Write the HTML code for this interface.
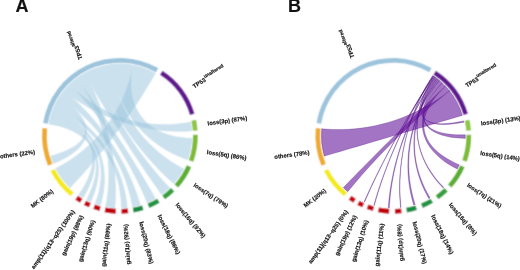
<!DOCTYPE html><html><head><meta charset="utf-8"><style>html,body{margin:0;padding:0;background:#fff;width:520px;height:270px;overflow:hidden}svg{display:block}text{font-family:"Liberation Sans",sans-serif;font-weight:bold;font-size:5.9px;fill:#111;stroke:#111;stroke-width:0.15}</style></head><body>
<svg width="520" height="270" viewBox="0 0 520 270">
<defs><filter id="bl" filterUnits="userSpaceOnUse" x="0" y="0" width="520" height="270"><feConvolveMatrix order="3" kernelMatrix="1 2 1 2 8 2 1 2 1" divisor="20" edgeMode="none"/></filter></defs>
<g filter="url(#bl)">
<defs><g id="ra"><path d="M48.89 123.97A72 72 0 0 1 49.8 119.41L52.54 120.07 55.96 120.98 59.86 122.18 64.08 123.71 68.46 125.59 72.85 127.83 77.15 130.44 81.23 133.42 85.01 136.77 88.41 140.47 91.37 144.49 93.84 148.81 95.8 153.39 97.22 158.18 98.12 163.12 98.51 168.15 98.43 173.21 97.92 178.21 97.05 183.07 95.91 187.69 94.58 191.98 93.19 195.82 91.85 199.09L90.73 201.67A72 72 0 0 1 86.54 199.66L87.83 197.15 89.37 193.99 91 190.28 92.59 186.16 94 181.72 95.15 177.08 95.93 172.32 96.28 167.53 96.14 162.79 95.48 158.16 94.27 153.71 92.5 149.48 90.2 145.52 87.37 141.87 84.08 138.55 80.38 135.58 76.35 132.97 72.08 130.72 67.69 128.83 63.3 127.29 59.05 126.06 55.12 125.13 51.66 124.45Z"/><path d="M49.8 119.41A72 72 0 0 1 51.2 114.32L53.88 115.17 57.21 116.33 61.01 117.81 65.08 119.63 69.27 121.8 73.45 124.33 77.47 127.21 81.25 130.44 84.67 134 87.67 137.87 90.19 142.03 92.19 146.43 93.63 151.05 94.53 155.82 94.87 160.71 94.69 165.65 94.03 170.57 92.95 175.4 91.52 180.07 89.84 184.48 88.02 188.55 86.18 192.18 84.46 195.27L83.03 197.7A72 72 0 0 1 78.6 194.83L80.2 192.51 82.14 189.58 84.23 186.13 86.32 182.28 88.28 178.12 89.99 173.74 91.36 169.22 92.29 164.64 92.72 160.07 92.61 155.57 91.93 151.21 90.66 147.02 88.81 143.05 86.41 139.34 83.5 135.91 80.13 132.8 76.38 130 72.35 127.54 68.15 125.42 63.92 123.62 59.79 122.14 55.94 120.97 52.54 120.07Z"/><path d="M51.2 114.32A72 72 0 0 1 53.01 109.2L55.63 110.26 58.9 111.68 62.66 113.48 66.74 115.68 71.02 118.28 75.36 121.29 79.64 124.7 83.77 128.5 87.66 132.66 91.24 137.16 94.45 141.97 97.23 147.05 99.57 152.35 101.45 157.82 102.85 163.4 103.8 169.02 104.3 174.6 104.41 180.08 104.16 185.35 103.63 190.33 102.9 194.91 102.05 198.99 101.19 202.45L100.44 205.17A72 72 0 0 1 95.27 203.51L96.22 200.85 97.33 197.48 98.47 193.52 99.52 189.08 100.38 184.27 100.95 179.2 101.17 173.96 100.98 168.63 100.32 163.3 99.18 158.03 97.54 152.9 95.4 147.96 92.77 143.25 89.69 138.83 86.2 134.73 82.36 130.97 78.25 127.58 73.95 124.57 69.58 121.95 65.24 119.71 61.08 117.84 57.23 116.34 53.88 115.18Z"/><path d="M53.01 109.2A72 72 0 0 1 55.37 103.92L57.9 105.18 61.09 106.87 64.82 108.98 68.96 111.53 73.39 114.52 78 117.93 82.71 121.77 87.42 125.99 92.06 130.59 96.55 135.53 100.84 140.77 104.87 146.27 108.61 151.97 112.01 157.83 115.06 163.77 117.74 169.72 120.05 175.62 121.99 181.37 123.56 186.89 124.81 192.08 125.75 196.85 126.42 201.08 126.88 204.67L127.18 207.48A72 72 0 0 1 121.41 207.83L121.33 205.01 121.16 201.41 120.81 197.18 120.22 192.43 119.33 187.28 118.12 181.82 116.53 176.16 114.56 170.38 112.19 164.59 109.43 158.83 106.27 153.2 102.74 147.75 98.87 142.53 94.7 137.6 90.29 132.99 85.69 128.74 80.97 124.87 76.23 121.4 71.54 118.35 67.02 115.72 62.78 113.5 58.94 111.68 55.64 110.26Z"/><path d="M55.37 103.92A72 72 0 0 1 59.22 97.1L61.58 98.63 64.47 100.58 67.69 102.91 71.03 105.57 74.34 108.5 77.47 111.66 80.27 115 82.66 118.48 84.54 122.05 85.83 125.68 86.5 129.32 86.52 132.94 85.88 136.5 84.59 139.98 82.68 143.33 80.22 146.52 77.27 149.53 73.92 152.34 70.3 154.91 66.53 157.23 62.78 159.26 59.21 161 56.02 162.43L53.43 163.52A72 72 0 0 1 50.82 156.15L53.51 155.34 56.82 154.29 60.53 153 64.42 151.48 68.32 149.74 72.06 147.8 75.5 145.67 78.53 143.36 81.04 140.89 82.96 138.3 84.23 135.59 84.83 132.8 84.73 129.94 83.94 127.05 82.5 124.16 80.45 121.3 77.86 118.51 74.84 115.81 71.49 113.25 67.96 110.86 64.39 108.69 60.96 106.78 57.88 105.17Z"/><path d="M59.22 97.1A72 72 0 0 1 63.84 90.66L66.05 92.45 68.84 94.79 72.14 97.65 75.83 101.02 79.84 104.87 84.09 109.16 88.49 113.87 92.97 118.95 97.47 124.37 101.93 130.07 106.3 136 110.52 142.12 114.56 148.36 118.38 154.66 121.94 160.96 125.22 167.19 128.21 173.28 130.88 179.14 133.23 184.71 135.25 189.88 136.95 194.59 138.34 198.72 139.43 202.2L140.24 204.92A72 72 0 0 1 132.53 206.73L132.02 203.95 131.3 200.39 130.34 196.17 129.09 191.4 127.53 186.18 125.64 180.6 123.41 174.75 120.84 168.71 117.93 162.58 114.68 156.42 111.12 150.3 107.28 144.29 103.2 138.44 98.9 132.82 94.44 127.46 89.89 122.43 85.3 117.74 80.74 113.45 76.3 109.57 72.07 106.13 68.14 103.16 64.61 100.66 61.6 98.64Z"/><path d="M63.84 90.66A72 72 0 0 1 69.74 84.2L71.72 86.22 74.3 88.75 77.46 91.66 81.15 94.82 85.36 98.14 90.02 101.51 95.12 104.85 100.6 108.07 106.4 111.12 112.49 113.94 118.81 116.48 125.29 118.7 131.88 120.58 138.51 122.11 145.11 123.28 151.62 124.1 157.96 124.58 164.05 124.76 169.8 124.66 175.15 124.35 179.99 123.86 184.24 123.28 187.81 122.69L190.59 122.16A72 72 0 0 1 191.72 130.83L188.9 131.01 185.27 131.19 180.93 131.3 175.97 131.29 170.48 131.1 164.55 130.69 158.25 130.05 151.67 129.14 144.88 127.95 137.97 126.48 131 124.71 124.04 122.67 117.16 120.37 110.44 117.83 103.92 115.09 97.67 112.18 91.75 109.17 86.22 106.1 81.12 103.03 76.51 100.05 72.43 97.23 68.93 94.66 66.06 92.43Z"/><path d="M69.74 84.2A72 72 0 0 1 76.72 78.23L78.42 80.51 80.61 83.44 83.22 86.99 86.22 91.1 89.54 95.71 93.13 100.77 96.96 106.21 100.96 111.98 105.1 118.03 109.33 124.28 113.6 130.68 117.88 137.17 122.11 143.69 126.26 150.17 130.29 156.55 134.17 162.77 137.85 168.75 141.3 174.44 144.49 179.76 147.38 184.65 149.95 189.04 152.15 192.86 153.97 196.04L155.37 198.51A72 72 0 0 1 147.1 202.51L146.03 199.89 144.61 196.52 142.85 192.49 140.76 187.9 138.34 182.81 135.61 177.3 132.59 171.47 129.29 165.37 125.74 159.08 121.96 152.68 118 146.23 113.87 139.79 109.63 133.43 105.31 127.21 100.96 121.19 96.62 115.41 92.36 109.95 88.22 104.84 84.28 100.13 80.58 95.88 77.21 92.11 74.23 88.89 71.71 86.24Z"/><path d="M76.72 78.23A72 72 0 0 1 84.49 73.16L85.88 75.63 87.62 78.83 89.63 82.71 91.83 87.21 94.16 92.27 96.54 97.83 98.92 103.83 101.26 110.21 103.49 116.91 105.6 123.86 107.54 131 109.28 138.25 110.82 145.55 112.13 152.82 113.22 160 114.08 167.01 114.71 173.78 115.14 180.22 115.38 186.27 115.45 191.83 115.39 196.84 115.25 201.21 115.05 204.84L114.86 207.67A72 72 0 0 1 105.67 206.43L106.22 203.65 106.85 200.08 107.5 195.81 108.08 190.92 108.53 185.49 108.81 179.62 108.86 173.37 108.65 166.83 108.15 160.08 107.35 153.19 106.25 146.22 104.83 139.25 103.12 132.35 101.12 125.59 98.88 119.02 96.42 112.71 93.8 106.71 91.08 101.1 88.3 95.91 85.56 91.21 82.94 87.04 80.52 83.46 78.41 80.51Z"/><path d="M84.49 73.16A72 72 0 0 1 93.9 68.71L94.93 71.35 96.29 74.74 97.97 78.8 99.99 83.43 102.32 88.56 104.96 94.1 107.89 99.98 111.09 106.12 114.54 112.46 118.22 118.91 122.09 125.41 126.13 131.89 130.28 138.3 134.52 144.57 138.8 150.64 143.06 156.46 147.26 161.97 151.34 167.12 155.24 171.86 158.89 176.15 162.22 179.94 165.18 183.19 167.67 185.87L169.63 187.92A72 72 0 0 1 161.61 194.54L159.97 192.23 157.85 189.23 155.32 185.62 152.42 181.44 149.2 176.76 145.71 171.63 141.99 166.11 138.09 160.26 134.05 154.15 129.92 147.82 125.74 141.35 121.55 134.8 117.4 128.22 113.32 121.69 109.35 115.27 105.53 109.01 101.89 103 98.47 97.28 95.31 91.94 92.44 87.04 89.9 82.64 87.7 78.81 85.89 75.63Z"/><path d="M93.9 68.71A72 72 0 0 1 111.1 64.39L111.46 67.2 111.99 70.77 112.75 75 113.78 79.77 115.12 84.97 116.79 90.5 118.82 96.26 121.22 102.18 123.98 108.17 127.11 114.15 130.57 120.05 134.36 125.81 138.44 131.37 142.75 136.68 147.26 141.69 151.91 146.37 156.62 150.68 161.31 154.6 165.91 158.1 170.31 161.17 174.42 163.8 178.12 165.99 181.28 167.73L183.79 169.05A72 72 0 0 1 173.74 183.65L171.63 181.76 168.93 179.3 165.74 176.3 162.14 172.78 158.21 168.77 154.03 164.33 149.66 159.48 145.18 154.27 140.63 148.74 136.09 142.95 131.6 136.94 127.21 130.77 122.96 124.51 118.9 118.2 115.06 111.92 111.46 105.73 108.15 99.71 105.13 93.93 102.42 88.45 100.04 83.38 98 78.77 96.29 74.74 94.93 71.35Z"/><path d="M111.1 64.39A72 72 0 0 1 132.86 65.03L132.36 67.8 131.83 71.3 131.38 75.37 131.09 79.87 131.06 84.67 131.35 89.64 132.03 94.69 133.13 99.71 134.68 104.61 136.71 109.33 139.22 113.78 142.19 117.93 145.6 121.72 149.42 125.12 153.58 128.11 158.04 130.69 162.7 132.84 167.49 134.58 172.29 135.94 176.98 136.94 181.43 137.62 185.51 138.05 189.04 138.28L191.85 138.4A72 72 0 0 1 187.81 159.77L185.15 158.81 181.78 157.52 177.86 155.87 173.5 153.83 168.82 151.38 163.94 148.53 158.96 145.27 153.97 141.6 149.06 137.56 144.28 133.15 139.72 128.4 135.42 123.37 131.42 118.09 127.77 112.61 124.49 107.01 121.59 101.33 119.08 95.68 116.96 90.11 115.22 84.74 113.83 79.65 112.77 74.95 112 70.76 111.46 67.2Z"/><path d="M132.86 65.03A72 72 0 0 1 155.35 73.18L153.95 75.65 152.13 78.82 149.9 82.62 147.28 86.97 144.31 91.79 141.01 97.02 137.41 102.58 133.54 108.4 129.44 114.42 125.13 120.57 120.67 126.78 116.08 133 111.42 139.16 106.73 145.21 102.06 151.09 97.46 156.73 92.98 162.1 88.67 167.13 84.6 171.78 80.82 176 77.4 179.75 74.39 182.96 71.87 185.62L69.9 187.66A72 72 0 0 1 55.69 168.43L58.21 167.13 61.4 165.42 65.13 163.27 69.29 160.68 73.76 157.66 78.45 154.22 83.26 150.36 88.11 146.11 92.91 141.49 97.61 136.54 102.14 131.3 106.45 125.81 110.49 120.12 114.22 114.29 117.63 108.37 120.69 102.45 123.38 96.6 125.71 90.89 127.68 85.41 129.3 80.26 130.6 75.54 131.6 71.35 132.33 67.81Z"/></g><g id="rb"><path d="M432.72 75.6A72 72 0 0 1 433.15 75.88L431.59 78.25 429.63 81.32 427.38 85.04 424.92 89.36 422.33 94.23 419.68 99.6 417.04 105.41 414.48 111.59 412.03 118.1 409.74 124.86 407.66 131.81 405.8 138.9 404.19 146.04 402.84 153.18 401.76 160.23 400.93 167.13 400.37 173.81 400.03 180.17 399.91 186.16 399.97 191.67 400.17 196.65 400.46 200.99 400.78 204.61L401.08 207.43A72 72 0 0 1 400.58 207.48L400.3 204.66 400 201.03 399.74 196.69 399.57 191.71 399.54 186.19 399.69 180.2 400.05 173.82 400.64 167.13 401.48 160.22 402.58 153.15 403.94 146 405.56 138.84 407.42 131.74 409.5 124.76 411.78 117.98 414.21 111.45 416.76 105.25 419.38 99.42 422.01 94.03 424.58 89.14 427.02 84.8 429.25 81.06 431.18 77.98Z"/><path d="M433.15 75.88A72 72 0 0 1 433.65 76.22L432.07 78.57 430.05 81.62 427.66 85.31 424.97 89.6 422.03 94.43 418.91 99.73 415.65 105.47 412.3 111.57 408.92 117.98 405.53 124.64 402.2 131.48 398.94 138.44 395.79 145.44 392.78 152.43 389.94 159.34 387.29 166.09 384.85 172.6 382.63 178.82 380.64 184.65 378.9 190.02 377.41 194.86 376.16 199.08 375.17 202.6L374.42 205.33A72 72 0 0 1 373.84 205.17L374.61 202.44 375.63 198.93 376.91 194.72 378.43 189.89 380.21 184.52 382.23 178.7 384.48 172.49 386.95 165.97 389.62 159.23 392.48 152.32 395.5 145.32 398.65 138.31 401.91 131.34 405.25 124.48 408.62 117.81 411.99 111.38 415.31 105.26 418.55 99.51 421.65 94.18 424.56 89.33 427.22 85.02 429.59 81.31 431.58 78.25Z"/><path d="M433.65 76.22A72 72 0 0 1 434.18 76.58L432.57 78.92 430.51 81.94 428.05 85.6 425.26 89.84 422.17 94.6 418.85 99.83 415.34 105.46 411.68 111.45 407.93 117.72 404.13 124.22 400.31 130.88 396.52 137.64 392.8 144.43 389.17 151.2 385.68 157.87 382.35 164.37 379.21 170.64 376.29 176.6 373.62 182.19 371.22 187.33 369.11 191.95 367.31 195.97 365.84 199.33L364.71 201.93A72 72 0 0 1 364.13 201.67L365.28 199.08 366.78 195.74 368.61 191.73 370.76 187.13 373.19 182 375.89 176.42 378.84 170.47 382 164.21 385.35 157.71 388.87 151.04 392.5 144.28 396.23 137.48 400.02 130.71 403.83 124.04 407.63 117.53 411.36 111.24 414.99 105.24 418.48 99.58 421.77 94.34 424.83 89.55 427.6 85.29 430.03 81.61 432.06 78.57Z"/><path d="M434.18 76.58A72 72 0 0 1 434.93 77.1L433.31 79.42 431.33 82.39 429.14 85.97 426.88 90.06 424.67 94.62 422.61 99.57 420.78 104.84 419.28 110.38 418.16 116.12 417.46 122 417.22 127.95 417.45 133.93 418.16 139.87 419.34 145.72 420.96 151.41 422.97 156.9 425.33 162.13 427.96 167.06 430.78 171.62 433.69 175.76 436.57 179.45 439.29 182.64 441.71 185.26L443.68 187.29A72 72 0 0 1 443.03 187.92L441.09 185.87 438.69 183.21 436.01 179.99 433.16 176.26 430.29 172.06 427.51 167.45 424.91 162.47 422.57 157.18 420.58 151.63 418.97 145.87 417.8 139.96 417.08 133.96 416.84 127.92 417.07 121.9 417.74 115.96 418.84 110.17 420.31 104.58 422.09 99.25 424.11 94.26 426.28 89.66 428.5 85.52 430.65 81.92 432.59 78.91Z"/><path d="M434.93 77.1A72 72 0 0 1 435.87 77.78L434.2 80.07 432.09 83.05 429.63 86.66 426.91 90.87 424 95.61 420.97 100.85 417.89 106.53 414.8 112.59 411.78 118.98 408.85 125.63 406.06 132.49 403.45 139.48 401.04 146.54 398.85 153.61 396.9 160.61 395.19 167.47 393.73 174.11 392.52 180.46 391.54 186.43 390.78 191.95 390.22 196.93 389.83 201.28 389.57 204.91L389.41 207.74A72 72 0 0 1 388.26 207.67L388.47 204.85 388.78 201.21 389.23 196.86 389.86 191.88 390.69 186.36 391.73 180.38 393 174.03 394.52 167.37 396.27 160.49 398.26 153.47 400.48 146.38 402.9 139.28 405.52 132.26 408.3 125.36 411.22 118.67 414.22 112.24 417.27 106.13 420.31 100.41 423.3 95.12 426.16 90.33 428.83 86.08 431.23 82.43 433.29 79.42Z"/><path d="M435.87 77.78A72 72 0 0 1 436.92 78.57L435.23 80.81 433.18 83.61 430.96 86.84 428.72 90.35 426.61 94.03 424.74 97.77 423.22 101.48 422.14 105.06 421.56 108.45 421.53 111.58 422.08 114.41 423.24 116.88 424.98 118.98 427.3 120.69 430.14 122.01 433.45 122.93 437.16 123.48 441.16 123.69 445.34 123.6 449.57 123.26 453.7 122.74 457.57 122.11 460.98 121.45L463.73 120.88A72 72 0 0 1 463.99 122.16L461.23 122.68 457.8 123.27 453.92 123.83 449.76 124.26 445.5 124.51 441.28 124.49 437.24 124.18 433.49 123.51 430.13 122.48 427.22 121.05 424.84 119.23 423.03 117.01 421.8 114.43 421.17 111.5 421.12 108.26 421.62 104.78 422.62 101.1 424.06 97.31 425.85 93.49 427.89 89.74 430.06 86.17 432.22 82.9 434.21 80.05Z"/><path d="M436.92 78.57A72 72 0 0 1 438.11 79.49L436.36 81.72 434.21 84.59 431.78 88.07 429.22 92.09 426.63 96.61 424.12 101.56 421.78 106.9 419.67 112.56 417.87 118.49 416.42 124.63 415.36 130.93 414.71 137.31 414.49 143.72 414.69 150.09 415.29 156.38 416.27 162.5 417.59 168.39 419.19 174 421.01 179.25 422.96 184.07 424.95 188.41 426.88 192.18 428.63 195.32L430.06 197.76A72 72 0 0 1 428.77 198.51L427.39 196.04 425.7 192.86 423.84 189.04 421.92 184.66 420.04 179.77 418.3 174.45 416.76 168.77 415.5 162.8 414.57 156.59 414 150.23 413.82 143.76 414.06 137.26 414.71 130.79 415.75 124.41 417.18 118.18 418.94 112.16 421 106.41 423.29 100.99 425.74 95.96 428.26 91.37 430.76 87.28 433.12 83.75 435.22 80.83Z"/><path d="M438.11 79.49A72 72 0 0 1 439.38 80.53L437.58 82.71 435.34 85.54 432.78 88.99 430.03 92.99 427.18 97.52 424.34 102.51 421.57 107.93 418.97 113.7 416.57 119.79 414.45 126.13 412.63 132.67 411.14 139.33 410.01 146.07 409.24 152.81 408.82 159.48 408.75 166.02 409 172.36 409.52 178.41 410.28 184.11 411.22 189.37 412.26 194.12 413.33 198.27 414.34 201.74L415.19 204.44A72 72 0 0 1 413.64 204.92L412.85 202.2 411.92 198.7 410.93 194.52 409.97 189.74 409.13 184.43 408.45 178.68 408.01 172.57 407.84 166.17 407.97 159.57 408.44 152.82 409.25 146 410.4 139.19 411.89 132.44 413.71 125.82 415.81 119.39 418.17 113.22 420.74 107.35 423.44 101.86 426.23 96.78 429.01 92.18 431.69 88.11 434.18 84.6 436.36 81.72Z"/><path d="M439.38 80.53A72 72 0 0 1 442.07 82.89L440.18 84.96 437.88 87.57 435.37 90.61 432.82 93.95 430.38 97.5 428.17 101.18 426.33 104.89 424.93 108.56 424.05 112.13 423.75 115.53 424.06 118.73 425 121.68 426.57 124.35 428.75 126.72 431.49 128.77 434.73 130.5 438.4 131.9 442.4 133 446.6 133.81 450.88 134.36 455.07 134.69 459 134.84 462.48 134.87L465.29 134.84A72 72 0 0 1 465.25 138.4L462.45 138.29 458.97 138.08 455.02 137.71 450.81 137.14 446.51 136.32 442.26 135.23 438.21 133.82 434.46 132.1 431.13 130.06 428.29 127.68 425.99 124.99 424.28 122 423.19 118.73 422.72 115.22 422.84 111.52 423.54 107.67 424.75 103.73 426.41 99.78 428.43 95.88 430.69 92.13 433.07 88.61 435.43 85.43 437.59 82.7Z"/><path d="M442.07 82.89A72 72 0 0 1 445.47 86.23L443.44 88.18 440.96 90.67 438.24 93.63 435.42 96.98 432.68 100.66 430.14 104.6 427.92 108.73 426.12 113.01 424.8 117.36 424.04 121.75 423.86 126.12 424.3 130.42 425.35 134.62 427 138.66 429.21 142.53 431.93 146.18 435.08 149.58 438.57 152.72 442.3 155.56 446.13 158.09 449.91 160.29 453.48 162.14 456.66 163.65L459.23 164.79A72 72 0 0 1 457.19 169.05L454.7 167.74 451.62 166.02 448.15 163.91 444.47 161.41 440.74 158.56 437.1 155.37 433.67 151.86 430.57 148.06 427.87 144.01 425.66 139.73 423.98 135.27 422.87 130.66 422.35 125.95 422.41 121.18 423.03 116.41 424.19 111.68 425.81 107.06 427.84 102.59 430.18 98.35 432.71 94.4 435.33 90.8 437.87 87.63 440.18 84.97Z"/><path d="M445.47 86.23A72 72 0 0 1 449.45 90.78L447.24 92.56 444.4 94.87 441 97.67 437.11 100.94 432.8 104.62 428.13 108.69 423.17 113.1 417.98 117.8 412.62 122.76 407.15 127.92 401.62 133.24 396.09 138.67 390.62 144.15 385.26 149.63 380.06 155.07 375.06 160.39 370.31 165.54 365.87 170.47 361.76 175.11 358.05 179.39 354.75 183.25 351.92 186.63 349.59 189.45L347.79 191.65A72 72 0 0 1 343.3 187.66L345.27 185.62 347.82 182.99 350.89 179.82 354.44 176.18 358.42 172.11 362.77 167.67 367.44 162.93 372.39 157.92 377.56 152.72 382.9 147.36 388.35 141.91 393.87 136.42 399.4 130.94 404.89 125.53 410.28 120.23 415.52 115.1 420.56 110.19 425.34 105.55 429.81 101.23 433.9 97.28 437.57 93.76 440.76 90.71 443.41 88.18Z"/><path d="M449.45 90.78A72 72 0 0 1 462.34 115.4L459.61 116.21 456.1 117.25 451.87 118.5 446.99 119.94 441.54 121.56 435.58 123.32 429.19 125.21 422.44 127.2 415.41 129.28 408.15 131.42 400.76 133.61 393.29 135.81 385.82 138.01 378.42 140.19 371.17 142.33 364.13 144.41 357.38 146.39 350.99 148.28 345.03 150.03 339.57 151.63 334.69 153.07 330.46 154.31 326.94 155.35L324.22 156.15A72 72 0 0 1 321.66 128.7L324.48 128.97 328.1 129.25 332.43 129.48 337.37 129.6 342.85 129.56 348.78 129.31 355.06 128.82 361.63 128.06 368.41 127.02 375.32 125.69 382.28 124.06 389.23 122.14 396.1 119.96 402.83 117.52 409.35 114.87 415.59 112.05 421.51 109.1 427.05 106.08 432.15 103.06 436.77 100.11 440.85 97.32 444.35 94.76 447.23 92.55Z"/></g></defs>
<use href="#ra" fill="#cbe1ee" stroke="#cbe1ee" stroke-width="0.5"/>
<g style="mix-blend-mode:darken"><rect x="0" y="0" width="520" height="270" fill="#fff"/>
<use href="#ra" fill="#97c3dc" fill-opacity="0.5" stroke="#97c3dc" stroke-opacity="0.5" stroke-width="0"/>
</g>
<path d="M43.07 122.99A77.9 77.9 0 0 1 158.26 68.05L155.9 72.23A73.1 73.1 0 0 0 47.8 123.79Z" fill="#9cc4dc"/>
<path d="M162.56 70.67A77.9 77.9 0 0 1 194.59 113.73L189.99 115.09A73.1 73.1 0 0 0 159.93 74.68Z" fill="#621590"/>
<path d="M196.1 119.65A77.9 77.9 0 0 1 197.61 130.42L192.82 130.75A73.1 73.1 0 0 0 191.4 120.65Z" fill="#8dc63f"/>
<path d="M197.79 134.76A77.9 77.9 0 0 1 193.38 161.73L188.85 160.13A73.1 73.1 0 0 0 192.99 134.83Z" fill="#7cbc30"/>
<path d="M191.23 167.16A77.9 77.9 0 0 1 178.15 187.57L174.56 184.38A73.1 73.1 0 0 0 186.83 165.23Z" fill="#5aae2e"/>
<path d="M174.4 191.51A77.9 77.9 0 0 1 165.03 199.35L162.25 195.44A73.1 73.1 0 0 0 171.05 188.08Z" fill="#36a03a"/>
<path d="M159.67 202.83A77.9 77.9 0 0 1 149.33 207.98L147.52 203.53A73.1 73.1 0 0 0 157.22 198.71Z" fill="#1f9440"/>
<path d="M143.58 210.06A77.9 77.9 0 0 1 133.56 212.54L132.72 207.82A73.1 73.1 0 0 0 142.12 205.49Z" fill="#198c42"/>
<path d="M128.31 213.29A77.9 77.9 0 0 1 121.53 213.73L121.43 208.93A73.1 73.1 0 0 0 127.79 208.52Z" fill="#c2000e"/>
<path d="M115.69 213.64A77.9 77.9 0 0 1 104.5 212.21L105.45 207.51A73.1 73.1 0 0 0 115.95 208.84Z" fill="#c2000e"/>
<path d="M99.48 211.02A77.9 77.9 0 0 1 93.26 209.05L94.9 204.54A73.1 73.1 0 0 0 100.73 206.39Z" fill="#c4000e"/>
<path d="M88.96 207.34A77.9 77.9 0 0 1 83.81 204.89L86.03 200.63A73.1 73.1 0 0 0 90.87 202.94Z" fill="#c6000e"/>
<path d="M80.01 202.76A77.9 77.9 0 0 1 75.22 199.66L77.97 195.73A73.1 73.1 0 0 0 82.47 198.64Z" fill="#c8000e"/>
<path d="M70.66 196.22A77.9 77.9 0 0 1 50.43 171.09L54.71 168.92A73.1 73.1 0 0 0 73.7 192.5Z" fill="#f5ea14"/>
<path d="M47.98 165.79A77.9 77.9 0 0 1 42.39 128.11L47.16 128.59A73.1 73.1 0 0 0 52.41 163.94Z" fill="#eeaa2a"/>
<path d="M316.47 122.99A77.9 77.9 0 0 1 431.66 68.05L429.3 72.23A73.1 73.1 0 0 0 321.2 123.79Z" fill="#9cc4dc"/>
<path d="M435.96 70.67A77.9 77.9 0 0 1 467.99 113.73L463.39 115.09A73.1 73.1 0 0 0 433.33 74.68Z" fill="#621590"/>
<path d="M469.5 119.65A77.9 77.9 0 0 1 471.01 130.42L466.22 130.75A73.1 73.1 0 0 0 464.8 120.65Z" fill="#8dc63f"/>
<path d="M471.19 134.76A77.9 77.9 0 0 1 466.78 161.73L462.25 160.13A73.1 73.1 0 0 0 466.39 134.83Z" fill="#7cbc30"/>
<path d="M464.63 167.16A77.9 77.9 0 0 1 451.55 187.57L447.96 184.38A73.1 73.1 0 0 0 460.23 165.23Z" fill="#5aae2e"/>
<path d="M447.8 191.51A77.9 77.9 0 0 1 438.43 199.35L435.65 195.44A73.1 73.1 0 0 0 444.45 188.08Z" fill="#36a03a"/>
<path d="M433.07 202.83A77.9 77.9 0 0 1 422.73 207.98L420.92 203.53A73.1 73.1 0 0 0 430.62 198.71Z" fill="#1f9440"/>
<path d="M416.98 210.06A77.9 77.9 0 0 1 406.96 212.54L406.12 207.82A73.1 73.1 0 0 0 415.52 205.49Z" fill="#198c42"/>
<path d="M401.71 213.29A77.9 77.9 0 0 1 394.93 213.73L394.83 208.93A73.1 73.1 0 0 0 401.19 208.52Z" fill="#c2000e"/>
<path d="M389.09 213.64A77.9 77.9 0 0 1 377.9 212.21L378.85 207.51A73.1 73.1 0 0 0 389.35 208.84Z" fill="#c2000e"/>
<path d="M372.88 211.02A77.9 77.9 0 0 1 366.66 209.05L368.3 204.54A73.1 73.1 0 0 0 374.13 206.39Z" fill="#c4000e"/>
<path d="M362.36 207.34A77.9 77.9 0 0 1 357.21 204.89L359.43 200.63A73.1 73.1 0 0 0 364.27 202.94Z" fill="#c6000e"/>
<path d="M353.41 202.76A77.9 77.9 0 0 1 348.62 199.66L351.37 195.73A73.1 73.1 0 0 0 355.87 198.64Z" fill="#c8000e"/>
<path d="M344.06 196.22A77.9 77.9 0 0 1 323.83 171.09L328.11 168.92A73.1 73.1 0 0 0 347.1 192.5Z" fill="#f5ea14"/>
<path d="M321.38 165.79A77.9 77.9 0 0 1 315.79 128.11L320.56 128.59A73.1 73.1 0 0 0 325.81 163.94Z" fill="#eeaa2a"/>
</g>
<use href="#rb" fill="#62109a" fill-opacity="0.58" stroke="#3f0670" stroke-opacity="0.55" stroke-width="0.45"/>
<g opacity="0.995">
<text x="15.6" y="12.4" style="font-size:18px">A</text>
<text x="287.9" y="12.4" style="font-size:18px">B</text>
<text transform="translate(80.66 59.33) rotate(-108)" dominant-baseline="central">TP53<tspan font-size="5.0" dy="-3.3">altered</tspan></text>
<text transform="translate(193.23 86.67) rotate(-31)" dominant-baseline="central">TP53<tspan font-size="5.0" dy="-3.3">unaltered</tspan></text>
<text transform="translate(207.54 123.53) rotate(-8)" dominant-baseline="central">loss(3p) (87%)</text>
<text transform="translate(206.89 152.13) rotate(8.5)" dominant-baseline="central">loss(5q) (86%)</text>
<text transform="translate(194.16 184.54) rotate(33.25)" dominant-baseline="central">loss(7q) (79%)</text>
<text transform="translate(176.67 203.74) rotate(50.1)" dominant-baseline="central">loss(16q) (92%)</text>
<text transform="translate(159.32 215.09) rotate(63.55)" dominant-baseline="central">loss(18q) (86%)</text>
<text transform="translate(141.16 221.76) rotate(76.1)" dominant-baseline="central">loss(20q) (83%)</text>
<text transform="translate(125.61 224.17) rotate(266.3)" text-anchor="end" dominant-baseline="central">gain(1p) (92%)</text>
<text transform="translate(108.73 223.64) rotate(277.25)" text-anchor="end" dominant-baseline="central">gain(11q) (89%)</text>
<text transform="translate(93.14 220.21) rotate(287.6)" text-anchor="end" dominant-baseline="central">gain(13q) (90%)</text>
<text transform="translate(81.8 215.73) rotate(295.5)" text-anchor="end" dominant-baseline="central">gain(19p) (88%)</text>
<text transform="translate(73.42 210.81) rotate(-54.5)" text-anchor="end" dominant-baseline="central">amp(11)(q13~q25) (100%)</text>
<text transform="translate(52.54 190.61) rotate(-37.5)" text-anchor="end" dominant-baseline="central">MK (80%)</text>
<text transform="translate(35.01 151.97) rotate(-7.3)" text-anchor="end" dominant-baseline="central">others (22%)</text>
<text transform="translate(352.56 57.83) rotate(-108)" dominant-baseline="central">TP53<tspan font-size="5.0" dy="-3.3">altered</tspan></text>
<text transform="translate(465.93 85.87) rotate(-31)" dominant-baseline="central">TP53<tspan font-size="5.0" dy="-3.3">unaltered</tspan></text>
<text transform="translate(480.94 123.53) rotate(-8)" dominant-baseline="central">loss(3p) (13%)</text>
<text transform="translate(480.29 153.03) rotate(8.5)" dominant-baseline="central">loss(5q) (14%)</text>
<text transform="translate(467.56 184.54) rotate(33.25)" dominant-baseline="central">loss(7q) (21%)</text>
<text transform="translate(450.07 203.74) rotate(50.1)" dominant-baseline="central">loss(16q) (8%)</text>
<text transform="translate(432.72 215.09) rotate(63.55)" dominant-baseline="central">loss(18q) (14%)</text>
<text transform="translate(414.56 221.76) rotate(76.1)" dominant-baseline="central">loss(20q) (17%)</text>
<text transform="translate(399.01 224.17) rotate(266.3)" text-anchor="end" dominant-baseline="central">gain(1p) (8%)</text>
<text transform="translate(382.13 223.64) rotate(277.25)" text-anchor="end" dominant-baseline="central">gain(11q) (11%)</text>
<text transform="translate(366.54 220.21) rotate(287.6)" text-anchor="end" dominant-baseline="central">gain(13q) (10%)</text>
<text transform="translate(355.2 215.73) rotate(295.5)" text-anchor="end" dominant-baseline="central">gain(19p) (12%)</text>
<text transform="translate(346.82 210.81) rotate(-54.5)" text-anchor="end" dominant-baseline="central">amp(11)(q13~q25) (0%)</text>
<text transform="translate(325.34 190.01) rotate(-37.5)" text-anchor="end" dominant-baseline="central">MK (20%)</text>
<text transform="translate(309.41 152.47) rotate(-7.3)" text-anchor="end" dominant-baseline="central">others (78%)</text>
</g>
</svg></body></html>
